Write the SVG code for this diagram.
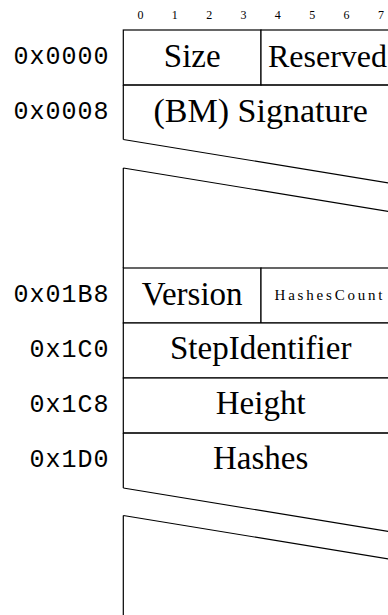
<svg xmlns="http://www.w3.org/2000/svg" width="388" height="615" viewBox="0 0 388 615">
<style>
.ln{fill:none;stroke:#000;stroke-width:1.2}
.cell{fill:#fff;stroke:#000;stroke-width:1.2}
.t{font-family:"Liberation Serif","DejaVu Serif",serif;font-size:33px;text-anchor:middle;fill:#000}
.bit{font-family:"Liberation Serif","DejaVu Serif",serif;font-size:12px;text-anchor:middle;fill:#000}
.addr{font-family:"Liberation Mono","DejaVu Sans Mono",monospace;font-size:25px;letter-spacing:1px;text-anchor:end;fill:#000}
.small{font-family:"Liberation Serif","DejaVu Serif",serif;font-size:15px;text-anchor:middle;fill:#000}
</style>
<rect width="388" height="615" fill="#fff"/>
<g id="bits">
<text class="bit" x="140.5" y="19">0</text>
<text class="bit" x="174.8" y="19">1</text>
<text class="bit" x="209.2" y="19">2</text>
<text class="bit" x="243.5" y="19">3</text>
<text class="bit" x="277.8" y="19">4</text>
<text class="bit" x="312.2" y="19">5</text>
<text class="bit" x="346.5" y="19">6</text>
<text class="bit" x="380.9" y="19">7</text>
</g>
<g id="addresses">
<text class="addr" x="109.5" y="64">0x0000</text>
<text class="addr" x="109.5" y="119">0x0008</text>
<text class="addr" x="109.5" y="302">0x01B8</text>
<text class="addr" x="109.5" y="357">0x1C0</text>
<text class="addr" x="109.5" y="412">0x1C8</text>
<text class="addr" x="109.5" y="467">0x1D0</text>
</g>
<g id="size">
<rect class="cell" x="123.3" y="30" width="137.7" height="55"/>
<text class="t" x="192.2" y="66.5">Size</text>
</g>
<g id="reserved">
<rect class="cell" x="261" y="30" width="137" height="55"/>
<text class="t" x="327.5" y="66.5" style="font-size:32px">Reserved</text>
</g>
<g id="signature">
<path class="ln" d="M123.3,85 H398 M123.3,85 V139.5"/>
<text class="t" x="260.7" y="121.5" style="font-size:34px">(BM) Signature</text>
</g>
<g id="gap1">
<path class="ln" d="M123.3,139.5 L398,184.5"/>
<path class="ln" d="M123.3,168 L398,213 M123.3,168 V268"/>
</g>
<g id="version">
<rect class="cell" x="123.3" y="268" width="137.7" height="55"/>
<text class="t" x="192.2" y="305">Version</text>
</g>
<g id="hashescount">
<rect class="cell" x="261" y="268" width="137" height="55"/>
<text class="small" x="328.5" y="299.5" textLength="108" lengthAdjust="spacing">HashesCount</text>
</g>
<g id="stepidentifier">
<rect class="cell" x="123.3" y="323" width="274.7" height="55"/>
<text class="t" x="260.7" y="359">StepIdentifier</text>
</g>
<g id="height">
<rect class="cell" x="123.3" y="378" width="274.7" height="55"/>
<text class="t" x="260.7" y="414">Height</text>
</g>
<g id="hashes">
<path class="ln" d="M123.3,433 H398 M123.3,433 V488"/>
<text class="t" x="260.7" y="469">Hashes</text>
</g>
<g id="connectors">
<path class="ln" d="M123.3,488 L398,533"/>
<path class="ln" d="M123.3,515.5 L398,560.5 M123.3,515.5 V615"/>
</g>
</svg>
